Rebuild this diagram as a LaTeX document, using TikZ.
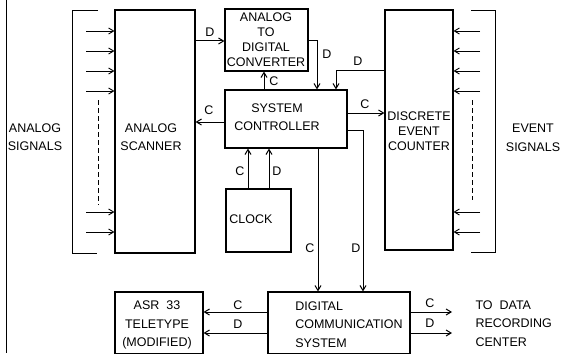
\documentclass[tikz,border=0pt]{standalone}
\usepackage{fontspec}
\setmainfont{Liberation Sans}
\usetikzlibrary{arrows.meta}
\begin{document}
\begin{tikzpicture}[x=1pt,y=-1pt,
  line width=1pt,
  box/.style={draw,line width=1.1pt,inner sep=0pt},
  txt/.style={inner sep=0pt,font=\fontsize{12.5}{18.5}\selectfont,align=center},
  lbl/.style={inner sep=0pt,font=\fontsize{12.5}{14}\selectfont},
  arr/.style={-{Straight Barb[length=5pt,width=6pt]}},
  sig/.style={-{Straight Barb[length=5pt,width=6pt]},line width=0.9pt}]
\useasboundingbox (0,0) rectangle (561,353);
% boxes
\node[box,minimum width=80pt,minimum height=243pt] (scanner) at (155,131.5) {};
\node[box,minimum width=83pt,minimum height=62pt] (adc) at (266.5,40) {};
\node[box,minimum width=122pt,minimum height=58pt] (sc) at (286,119) {};
\node[box,minimum width=68pt,minimum height=240pt] (dec) at (419,130) {};
\node[box,minimum width=65pt,minimum height=63pt] (clock) at (258.5,220.5) {};
\node[box,minimum width=142pt,minimum height=62pt] (dcs) at (339,323) {};
\node[box,minimum width=88pt,minimum height=62pt] (asr) at (159,323) {};
% texts
\node[txt] (tscan) at (151,137) {ANALOG\\SCANNER};
\node[txt,font=\fontsize{12.5}{15}\selectfont] (tadc) at (266,39.5) {ANALOG\\TO\\DIGITAL\\CONVERTER};
\node[txt] (tsc) at (277,117) {SYSTEM\\CONTROLLER};
\node[txt,font=\fontsize{12.5}{15}\selectfont] (tdec) at (419,131.5) {DISCRETE\\EVENT\\COUNTER};
\node[txt] (tclock) at (251,219) {CLOCK};
\node[txt,align=left] (tdcs) at (349,324.5) {DIGITAL\\COMMUNICATION\\SYSTEM};
\node[txt] (tasr) at (157,325) {ASR\ \ 33\\TELETYPE\\(MODIFIED)};
\node[txt] (tas) at (35,137) {ANALOG\\SIGNALS};
\node[txt] (tes) at (533,138) {EVENT\\SIGNALS};
\node[txt,align=left,anchor=west] (trc) at (475,323.5) {TO\ \ DATA\\RECORDING\\CENTER};
% frame lines
\draw (6,0) -- (6,353);
\draw (98,11) -- (72,11) -- (72,253) -- (97,253);
\draw (471,11) -- (495,11) -- (495,252) -- (471,252);
\draw[dashed,dash pattern=on 5pt off 3pt] (98,100) -- (98,205);
\draw[dashed,dash pattern=on 5pt off 3pt] (472,100) -- (472,200);
% signal input arrows
\foreach \y [count=\i] in {31,51,71,91,212,232} {
  \coordinate (ls\i) at (86,\y);
  \draw[sig] (ls\i) -- (scanner.west |- ls\i);
  \coordinate (rs\i) at (480,\y);
  \draw[sig] (rs\i) -- (dec.east |- rs\i);
}
% connectors
\coordinate (sD) at (195,41);
\draw[arr] (sD) -- (adc.west |- sD);
\node[lbl] (lD1) at (210,32) {D};
\coordinate (aD) at (adc.east |- 0,41);
\coordinate (aD2) at (317,41);
\draw[arr] (aD) -- (aD2) -- (aD2 |- sc.north);
\node[lbl] (lD2) at (327,54) {D};
\coordinate (dD) at (dec.west |- 0,70);
\coordinate (dD2) at (336,70);
\draw[arr] (dD) -- (dD2) -- (dD2 |- sc.north);
\node[lbl] (lD3) at (358,61) {D};
\coordinate (cA) at (264,0);
\draw[arr] (cA |- sc.north) -- (cA |- adc.south);
\node[lbl] (lC1) at (274,81) {C};
\coordinate (cL) at (0,122);
\draw[arr] (sc.west |- cL) -- (scanner.east |- cL);
\node[lbl] (lC2) at (209,110) {C};
\coordinate (cR) at (0,113);
\draw[arr] (sc.east |- cR) -- (dec.west |- cR);
\node[lbl] (lC3) at (365,104) {C};
\coordinate (k1) at (248,0);
\coordinate (k2) at (269,0);
\draw[arr] (k1 |- clock.north) -- (k1 |- sc.south);
\draw[arr] (k2 |- clock.north) -- (k2 |- sc.south);
\node[lbl] (lC4) at (240,171) {C};
\node[lbl] (lD4) at (277,171) {D};
\coordinate (m1) at (318,0);
\draw[arr] (m1 |- sc.south) -- (m1 |- dcs.north);
\node[lbl] (lC5) at (310,248) {C};
\coordinate (m2) at (363,130);
\draw[arr] (sc.east |- m2) -- (m2) -- (m2 |- dcs.north);
\node[lbl] (lD5) at (356,248) {D};
\coordinate (b1) at (0,312);
\coordinate (b2) at (0,333);
\draw[arr] (dcs.west |- b1) -- (asr.east |- b1);
\draw[arr] (dcs.west |- b2) -- (asr.east |- b2);
\node[lbl] (lC6) at (238,305) {C};
\node[lbl] (lD6) at (238,324) {D};
\coordinate (e1) at (452,312);
\coordinate (e2) at (452,333);
\draw[arr] (dcs.east |- e1) -- (e1);
\draw[arr] (dcs.east |- e2) -- (e2);
\node[lbl] (lC7) at (430,303) {C};
\node[lbl] (lD7) at (430,323) {D};
\end{tikzpicture}
\end{document}
